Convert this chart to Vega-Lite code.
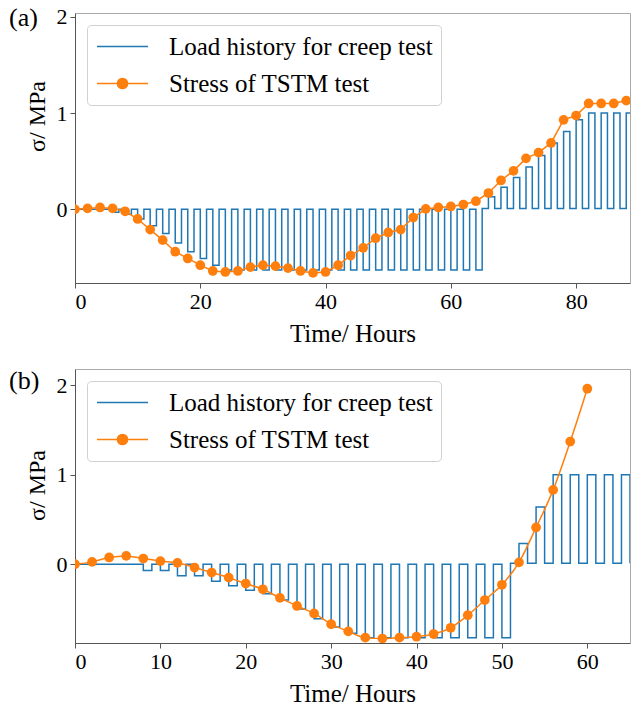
{
  "$schema": "https://vega.github.io/schema/vega-lite/v6.json",
  "background": "white",
  "padding": {"left": 8, "top": 4, "right": 4, "bottom": 2},
  "bounds": "flush",
  "spacing": 86,
  "config": {
    "font": "Liberation Serif",
    "view": {"stroke": "#aaa", "strokeWidth": 1},
    "axis": {"labelFont": "Liberation Serif", "labelFontSize": 22, "labelColor": "black", "titleFont": "Liberation Serif", "titleFontSize": 25, "titleFontWeight": "normal", "titleColor": "black", "grid": false, "domainColor": "#555", "tickColor": "#555", "tickSize": 5, "labelPadding": 3},
    "axisX": {"titlePadding": 9},
    "axisY": {"titlePadding": 7, "titleFontSize": 24},
    "legend": {"orient": "top-left", "offset": 12, "fillColor": "white", "strokeColor": "#d0d0d0", "cornerRadius": 4, "padding": 8, "labelFont": "Liberation Serif", "labelFontSize": 25, "labelColor": "black", "labelLimit": 0, "symbolSize": 650, "symbolStrokeWidth": 1.5, "symbolOffset": 14, "rowPadding": 10, "labelOffset": 33, "symbolType": "stroke", "title": null},
    "title": {"font": "Liberation Serif", "fontSize": 26, "fontWeight": "normal", "color": "black"}
  },
  "datasets": {
    "loadA": [
      {"t":0,"v":0},{"t":1,"v":0},{"t":2,"v":0},{"t":3,"v":0},{"t":4,"v":0},{"t":5,"v":0},
      {"t":6,"v":-0.03},{"t":7,"v":0},{"t":8,"v":-0.05},{"t":9,"v":0},{"t":10,"v":-0.1},{"t":11,"v":0},
      {"t":12,"v":-0.17},{"t":13,"v":0},{"t":14,"v":-0.25},{"t":15,"v":0},{"t":16,"v":-0.35},{"t":17,"v":0},
      {"t":18,"v":-0.44},{"t":19,"v":0},{"t":20,"v":-0.51},{"t":21,"v":0},{"t":22,"v":-0.58},{"t":23,"v":0},
      {"t":24,"v":-0.63},{"t":25,"v":0},{"t":26,"v":-0.63},{"t":27,"v":0},{"t":28,"v":-0.63},{"t":29,"v":0},
      {"t":30,"v":-0.63},{"t":31,"v":0},{"t":32,"v":-0.63},{"t":33,"v":0},{"t":34,"v":-0.63},{"t":35,"v":0},
      {"t":36,"v":-0.63},{"t":37,"v":0},{"t":38,"v":-0.63},{"t":39,"v":0},{"t":40,"v":-0.63},{"t":41,"v":0},
      {"t":42,"v":-0.63},{"t":43,"v":0},{"t":44,"v":-0.63},{"t":45,"v":0},{"t":46,"v":-0.63},{"t":47,"v":0},
      {"t":48,"v":-0.63},{"t":49,"v":0},{"t":50,"v":-0.63},{"t":51,"v":0},{"t":52,"v":-0.63},{"t":53,"v":0},
      {"t":54,"v":-0.63},{"t":55,"v":0},{"t":56,"v":-0.63},{"t":57,"v":0},{"t":58,"v":-0.63},{"t":59,"v":0},
      {"t":60,"v":-0.63},{"t":61,"v":0},{"t":62,"v":-0.63},{"t":63,"v":0},{"t":64,"v":-0.63},{"t":65,"v":0.01},
      {"t":66,"v":0.13},{"t":67,"v":0.01},{"t":68,"v":0.23},{"t":69,"v":0.01},{"t":70,"v":0.33},{"t":71,"v":0.01},
      {"t":72,"v":0.44},{"t":73,"v":0.01},{"t":74,"v":0.56},{"t":75,"v":0.01},{"t":76,"v":0.69},{"t":77,"v":0.01},
      {"t":78,"v":0.81},{"t":79,"v":0.01},{"t":80,"v":0.93},{"t":81,"v":0.01},{"t":82,"v":1.0},{"t":83,"v":0.01},
      {"t":84,"v":1.0},{"t":85,"v":0.01},{"t":86,"v":1.0},{"t":87,"v":0.01},{"t":88,"v":1.0},{"t":89,"v":0.01}
    ],
    "stressA": [
      {"t":0,"v":0},{"t":2,"v":0.01},{"t":4,"v":0.02},{"t":6,"v":0.01},{"t":8,"v":-0.02},{"t":10,"v":-0.1},
      {"t":12,"v":-0.21},{"t":14,"v":-0.32},{"t":16,"v":-0.44},{"t":18,"v":-0.51},{"t":20,"v":-0.58},{"t":22,"v":-0.64},
      {"t":24,"v":-0.65},{"t":26,"v":-0.64},{"t":28,"v":-0.6},{"t":30,"v":-0.58},{"t":32,"v":-0.59},{"t":34,"v":-0.61},
      {"t":36,"v":-0.64},{"t":38,"v":-0.66},{"t":40,"v":-0.65},{"t":42,"v":-0.58},{"t":44,"v":-0.48},{"t":46,"v":-0.4},
      {"t":48,"v":-0.3},{"t":50,"v":-0.24},{"t":52,"v":-0.21},{"t":54,"v":-0.085},{"t":56,"v":0.005},{"t":58,"v":0.02},
      {"t":60,"v":0.03},{"t":62,"v":0.05},{"t":64,"v":0.085},{"t":66,"v":0.17},{"t":68,"v":0.3},{"t":70,"v":0.4},
      {"t":72,"v":0.53},{"t":74,"v":0.59},{"t":76,"v":0.69},{"t":78,"v":0.93},{"t":80,"v":0.975},{"t":82,"v":1.1},
      {"t":84,"v":1.1},{"t":86,"v":1.1},{"t":88,"v":1.13},{"t":90,"v":1.2}
    ],
    "loadB": [
      {"t":0,"v":0},{"t":1,"v":0},{"t":2,"v":0},{"t":3,"v":0},{"t":4,"v":0},{"t":5,"v":0},{"t":6,"v":0},{"t":7,"v":0},
      {"t":8,"v":-0.07},{"t":9,"v":0},{"t":10,"v":-0.07},{"t":11,"v":0},{"t":12,"v":-0.13},{"t":13,"v":0},
      {"t":14,"v":-0.13},{"t":15,"v":0},{"t":16,"v":-0.19},{"t":17,"v":0},{"t":18,"v":-0.24},{"t":19,"v":0},
      {"t":20,"v":-0.29},{"t":21,"v":0},{"t":22,"v":-0.33},{"t":23,"v":0},{"t":24,"v":-0.4},{"t":25,"v":0},
      {"t":26,"v":-0.5},{"t":27,"v":0},{"t":28,"v":-0.61},{"t":29,"v":0},{"t":30,"v":-0.7},{"t":31,"v":0},
      {"t":32,"v":-0.77},{"t":33,"v":0},{"t":34,"v":-0.82},{"t":35,"v":0},{"t":36,"v":-0.82},{"t":37,"v":0},
      {"t":38,"v":-0.82},{"t":39,"v":0},{"t":40,"v":-0.82},{"t":41,"v":0},{"t":42,"v":-0.82},{"t":43,"v":0},
      {"t":44,"v":-0.82},{"t":45,"v":0},{"t":46,"v":-0.82},{"t":47,"v":0},{"t":48,"v":-0.82},{"t":49,"v":0},
      {"t":50,"v":-0.82},{"t":51,"v":0.01},{"t":52,"v":0.23},{"t":53,"v":0.01},{"t":54,"v":0.64},{"t":55,"v":0.01},
      {"t":56,"v":1.0},{"t":57,"v":0.01},{"t":58,"v":1.0},{"t":59,"v":0.01},{"t":60,"v":1.0},{"t":61,"v":0.01},
      {"t":62,"v":1.0},{"t":63,"v":0.01},{"t":64,"v":1.0},{"t":65,"v":0.01}
    ],
    "stressB": [
      {"t":0,"v":0},{"t":2,"v":0.026},{"t":4,"v":0.075},{"t":6,"v":0.093},{"t":8,"v":0.063},{"t":10,"v":0.034},
      {"t":12,"v":0.015},{"t":14,"v":-0.037},{"t":16,"v":-0.093},{"t":18,"v":-0.15},{"t":20,"v":-0.216},{"t":22,"v":-0.28},
      {"t":24,"v":-0.376},{"t":26,"v":-0.466},{"t":28,"v":-0.55},{"t":30,"v":-0.67},{"t":32,"v":-0.75},{"t":34,"v":-0.82},
      {"t":36,"v":-0.83},{"t":38,"v":-0.82},{"t":40,"v":-0.81},{"t":42,"v":-0.78},{"t":44,"v":-0.71},{"t":46,"v":-0.57},
      {"t":48,"v":-0.4},{"t":50,"v":-0.23},{"t":52,"v":0.02},{"t":54,"v":0.41},{"t":56,"v":0.83},{"t":58,"v":1.37},
      {"t":60,"v":1.96}
    ]
  },
  "resolve": {"scale": {"color": "independent", "x": "independent", "y": "independent"}, "legend": {"color": "independent"}},
  "vconcat": [
    {
      "width": 555, "height": 270,
      "title": {"text": "(a)", "anchor": "start", "frame": "group", "orient": "top", "offset": 0, "baseline": "alphabetic", "dx": -66, "dy": 46},
      "encoding": {
        "x": {"field": "t", "type": "quantitative", "scale": {"domain": [0, 88.6], "nice": false, "zero": false}, "axis": {"values": [0, 20, 40, 60, 80], "title": "Time/ Hours"}},
        "y": {"field": "v", "type": "quantitative", "scale": {"domain": [-0.765, 2.04], "nice": false, "zero": false}, "axis": {"values": [0, 1, 2], "title": "σ/ MPa", "titleY": 103}},
        "color": {"field": "s", "type": "nominal", "scale": {"domain": ["Load history for creep test", "Stress of TSTM test"], "range": ["#1f77b4", "#ff7f0e"]},
          "legend": {"symbolType": "stroke", "encode": {"symbols": {"update": {
            "shape": {"signal": "datum.value === 'Stress of TSTM test' ? 'M-2,0L2,0M0.4,0A0.4,0.4,0,1,1,-0.4,0A0.4,0.4,0,1,1,0.4,0' : 'M-2,0L2,0'"},
            "fill": {"signal": "datum.value === 'Stress of TSTM test' ? '#ff7f0e' : 'transparent'"},
            "stroke": {"signal": "datum.value === 'Stress of TSTM test' ? '#ff7f0e' : '#1f77b4'"}}}}}}
      },
      "layer": [
        {"data": {"name": "loadA"}, "transform": [{"calculate": "'Load history for creep test'", "as": "s"}], "mark": {"type": "line", "interpolate": "step-after", "strokeWidth": 1.5, "clip": true}},
        {"data": {"name": "stressA"}, "transform": [{"calculate": "'Stress of TSTM test'", "as": "s"}], "mark": {"type": "line", "strokeWidth": 1.5, "clip": true}},
        {"data": {"name": "stressA"}, "transform": [{"calculate": "'Stress of TSTM test'", "as": "s"}], "mark": {"type": "point", "filled": true, "size": 95, "opacity": 1, "clip": true}}
      ]
    },
    {
      "width": 555, "height": 274,
      "title": {"text": "(b)", "anchor": "start", "frame": "group", "orient": "top", "offset": 0, "baseline": "alphabetic", "dx": -66, "dy": 46},
      "encoding": {
        "x": {"field": "t", "type": "quantitative", "scale": {"domain": [0, 65], "nice": false, "zero": false}, "axis": {"values": [0, 10, 20, 30, 40, 50, 60], "title": "Time/ Hours"}},
        "y": {"field": "v", "type": "quantitative", "scale": {"domain": [-0.88, 2.18], "nice": false, "zero": false}, "axis": {"values": [0, 1, 2], "title": "σ/ MPa", "titleY": 116}},
        "color": {"field": "s", "type": "nominal", "scale": {"domain": ["Load history for creep test", "Stress of TSTM test"], "range": ["#1f77b4", "#ff7f0e"]},
          "legend": {"symbolType": "stroke", "encode": {"symbols": {"update": {
            "shape": {"signal": "datum.value === 'Stress of TSTM test' ? 'M-2,0L2,0M0.4,0A0.4,0.4,0,1,1,-0.4,0A0.4,0.4,0,1,1,0.4,0' : 'M-2,0L2,0'"},
            "fill": {"signal": "datum.value === 'Stress of TSTM test' ? '#ff7f0e' : 'transparent'"},
            "stroke": {"signal": "datum.value === 'Stress of TSTM test' ? '#ff7f0e' : '#1f77b4'"}}}}}}
      },
      "layer": [
        {"data": {"name": "loadB"}, "transform": [{"calculate": "'Load history for creep test'", "as": "s"}], "mark": {"type": "line", "interpolate": "step-after", "strokeWidth": 1.5, "clip": true}},
        {"data": {"name": "stressB"}, "transform": [{"calculate": "'Stress of TSTM test'", "as": "s"}], "mark": {"type": "line", "interpolate": "monotone", "strokeWidth": 1.5, "clip": true}},
        {"data": {"name": "stressB"}, "transform": [{"calculate": "'Stress of TSTM test'", "as": "s"}], "mark": {"type": "point", "filled": true, "size": 95, "opacity": 1, "clip": true}}
      ]
    }
  ]
}
